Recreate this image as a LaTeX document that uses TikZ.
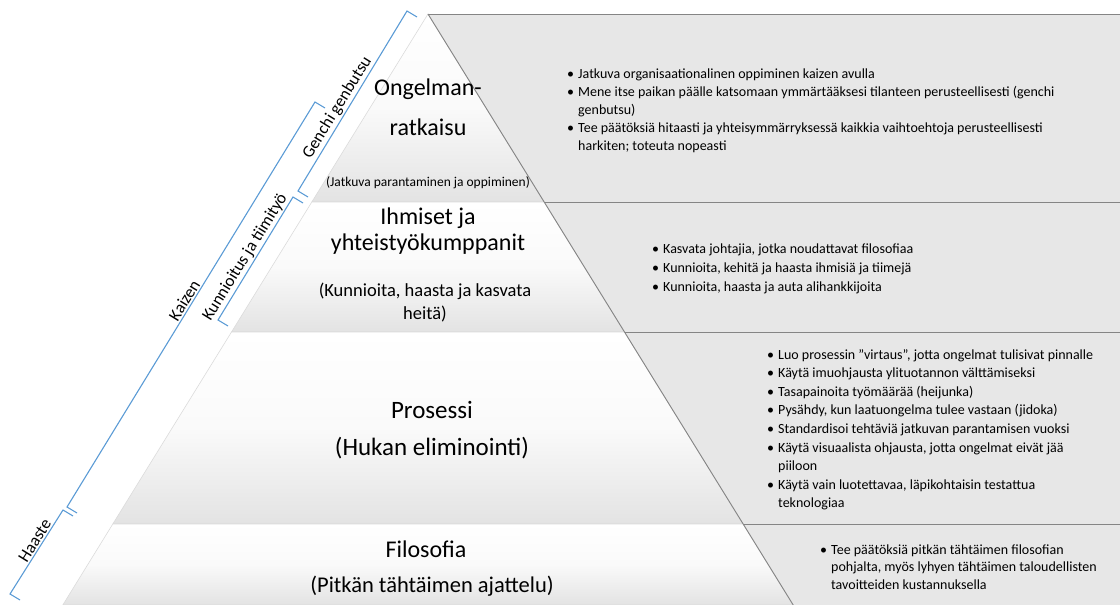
\documentclass[tikz,border=0pt]{standalone}
\usepackage{fontspec}
\setmainfont{Carlito}
\definecolor{bracketblue}{HTML}{5B9BD5}
\definecolor{panelgray}{HTML}{E7E7E7}
\definecolor{edgegray}{HTML}{858585}
% bullet and hanging indent for the list lines
\newcommand\pbul{\makebox[11pt][l]{\textbullet}}
\newcommand\pind{\hspace*{11pt}}
\begin{document}
\begin{tikzpicture}[x=1pt,y=-1pt,
  panel/.style={fill=panelgray},
  panelrule/.style={draw=edgegray, line width=0.9pt},
  band/.style={top color=white, bottom color=black!11, middle color=black!2,
               draw=black!14, line width=0.6pt},
  brace/.style={draw=bracketblue, line width=1.1pt},
  bracelabel/.style={rotate=58.3, anchor=south, inner sep=1.5pt,
                     font=\fontsize{17}{17}\selectfont},
  title/.style={anchor=base, inner sep=0pt, font=\fontsize{24}{40}\selectfont},
  listtext/.style={anchor=base west, inner sep=0pt, font=\fontsize{14}{18}\selectfont}
]
\useasboundingbox (0,0) rectangle (1120,605);

% pyramid levels: left edge (l), right diagonal (d), right margin (r)
\coordinate (apex) at (428,14);
\coordinate (r0) at (1120,14);
\coordinate (l1) at (311.8,202); \coordinate (d1) at (544.2,202); \coordinate (r1) at (1120,202);
\coordinate (l2) at (231.5,332); \coordinate (d2) at (624.5,332); \coordinate (r2) at (1120,332);
\coordinate (l3) at (112.8,524); \coordinate (d3) at (743.2,524); \coordinate (r3) at (1120,524);
\coordinate (l4) at (62.8,605);  \coordinate (d4) at (793.2,605); \coordinate (r4) at (1120,605);

% grey description panels
\fill[panel] (apex) -- (r0) -- (r4) -- (d4) -- cycle;

% pyramid bands
\path[band] (apex) -- (d1) -- (l1) -- cycle;
\path[band] (l1) -- (d1) -- (d2) -- (l2) -- cycle;
\path[band] (l2) -- (d2) -- (d3) -- (l3) -- cycle;
\path[band] (l3) -- (d3) -- (d4) -- (l4) -- cycle;

% panel rules
\draw[panelrule] (apex) -- (r0);
\draw[panelrule] (d1) -- (r1);
\draw[panelrule] (d2) -- (r2);
\draw[panelrule] (d3) -- (r3);
\draw[panelrule] (apex) -- (d4);

% brackets along the left side
\draw[brace] (417,17) -- (407,11) -- node[bracelabel, pos=0.565] (lgenchi) {Genchi genbutsu} (298,191) -- (308,197);
\draw[brace] (303,203) -- (293,197) -- node[bracelabel, pos=0.53] (lkunn) {Kunnioitus ja tiimityö} (218,320) -- (228,326);
\draw[brace] (325,108) -- (315,102) -- node[bracelabel, pos=0.5] (lkaizen) {Kaizen} (67,507) -- (77,513);
\draw[brace] (73,516) -- (63,510) -- node[bracelabel, pos=0.41] (lhaaste) {Haaste} (10,594) -- (20,600);

% band titles
\node[title] (t1) at (428,95) {\begin{tabular}[t]{@{}c@{}}Ongelman-\\ratkaisu\end{tabular}};
\node[title, font=\fontsize{13.5}{16}\selectfont] (s1) at (428,186) {(Jatkuva parantaminen ja oppiminen)};
\node[title, font=\fontsize{24}{26}\selectfont] (t2) at (428,224) {\begin{tabular}[t]{@{}c@{}}Ihmiset ja\\yhteistyökumppanit\end{tabular}};
\node[title, font=\fontsize{18.5}{23}\selectfont] (s2) at (425,296) {\begin{tabular}[t]{@{}c@{}}(Kunnioita, haasta ja kasvata\\heitä)\end{tabular}};
\node[title, font=\fontsize{25}{30}\selectfont] (t3) at (432,418) {Prosessi};
\node[title, font=\fontsize{25}{30}\selectfont] (s3) at (432,455) {(Hukan eliminointi)};
\node[title] (t4) at (426,557) {Filosofia};
\node[title, font=\fontsize{22.5}{26}\selectfont] (s4) at (432,592) {(Pitkän tähtäimen ajattelu)};

% descriptions
\node[listtext] (list1) at (567,78) {\begin{tabular}[t]{@{}l@{}}
\pbul Jatkuva organisaationalinen oppiminen kaizen avulla\\
\pbul Mene itse paikan päälle katsomaan ymmärtääksesi tilanteen perusteellisesti (genchi\\
\pind genbutsu)\\
\pbul Tee päätöksiä hitaasti ja yhteisymmärryksessä kaikkia vaihtoehtoja perusteellisesti\\
\pind harkiten; toteuta nopeasti
\end{tabular}};
\node[listtext, font=\fontsize{14}{19}\selectfont] (list2) at (652,253) {\begin{tabular}[t]{@{}l@{}}
\pbul Kasvata johtajia, jotka noudattavat filosofiaa\\
\pbul Kunnioita, kehitä ja haasta ihmisiä ja tiimejä\\
\pbul Kunnioita, haasta ja auta alihankkijoita
\end{tabular}};
\node[listtext, font=\fontsize{14}{18.6}\selectfont] (list3) at (767,359) {\begin{tabular}[t]{@{}l@{}}
\pbul Luo prosessin ”virtaus”, jotta ongelmat tulisivat pinnalle\\
\pbul Käytä imuohjausta ylituotannon välttämiseksi\\
\pbul Tasapainoita työmäärää (heijunka)\\
\pbul Pysähdy, kun laatuongelma tulee vastaan (jidoka)\\
\pbul Standardisoi tehtäviä jatkuvan parantamisen vuoksi\\
\pbul Käytä visuaalista ohjausta, jotta ongelmat eivät jää\\
\pind piiloon\\
\pbul Käytä vain luotettavaa, läpikohtaisin testattua\\
\pind teknologiaa
\end{tabular}};
\node[listtext, font=\fontsize{14}{17.5}\selectfont] (list4) at (820,554) {\begin{tabular}[t]{@{}l@{}}
\pbul Tee päätöksiä pitkän tähtäimen filosofian\\
\pind pohjalta, myös lyhyen tähtäimen taloudellisten\\
\pind tavoitteiden kustannuksella
\end{tabular}};
\end{tikzpicture}
\end{document}
